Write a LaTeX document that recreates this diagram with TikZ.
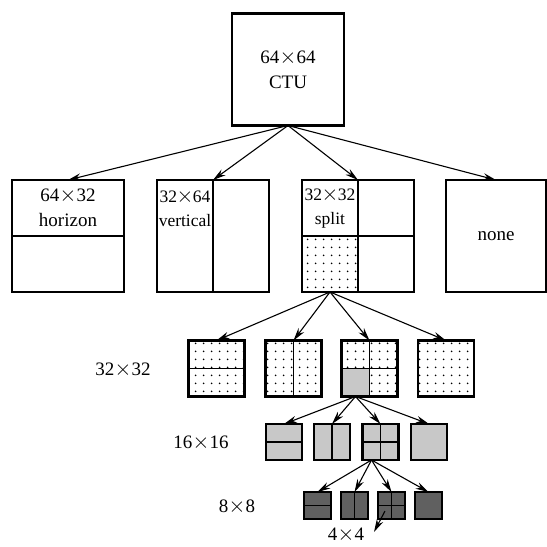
\documentclass[tikz,border=0pt]{standalone}
\usepackage{fontspec}
\setmainfont{Liberation Serif}
\usetikzlibrary{arrows.meta,calc,patterns,backgrounds}
\pgfdeclarepatternformonly{sdots}{\pgfpointorigin}{\pgfpoint{8pt}{8pt}}{\pgfpoint{8pt}{8pt}}{\pgfpathcircle{\pgfpoint{4pt}{4pt}}{1.05pt}\pgfusepath{fill}}
\definecolor{lgray}{RGB}{200,200,200}
\definecolor{dgray}{RGB}{96,96,96}
\newcommand{\tms}{\makebox[0.9em]{\scalebox{1.25}{$\times$}}}
\begin{document}
\begin{tikzpicture}[x=1pt,y=-1pt,
  every node/.style={font=\fontsize{19}{25}\selectfont},
  blk/.style={draw, line width=2.4pt, inner sep=0pt, outer sep=0pt, minimum width=#1, minimum height=#1},
  div/.style={line width=1.9pt},
  arr/.style={-{Stealth[length=13pt,width=7pt]}, line width=1.1pt},
  dotfill/.style={pattern=sdots, pattern color=black},
  lg/.style={fill=lgray},
  dg/.style={fill=dgray},
  small/.style={font=\fontsize{17.5}{24}\selectfont}]
\useasboundingbox (0,0) rectangle (547,547);

% level 0
\node[blk=112pt, align=center] (ctu) at (288,69.5) {64\tms64\\CTU};

% level 1
\node[blk=112pt] (b1) at (68,236) {};
\node[blk=112pt] (b2) at (213,236) {};
\node[blk=112pt] (b3) at (358,236) {};
\node[draw, line width=2.4pt, inner sep=0pt, outer sep=0pt, minimum width=100pt, minimum height=112pt] (b4) at (496,236) {none};
\begin{scope}[on background layer]
  \fill[dotfill] (b3.west) rectangle (b3.south);
\end{scope}
\draw[div] (b1.west) -- (b1.east);
\draw[div] (b2.north) -- (b2.south);
\draw[div] (b3.north) -- (b3.south);
\draw[div] (b3.west) -- (b3.east);
\node[align=center] (t1) at ($(b1.north)!0.5!(b1.center)$) {64\tms32\\horizon};
\node[small, align=center] (t2) at ($(b2.north west)!0.5!(b2.center)$) {32\tms64\\vertical};
\node[small, align=center] (t3) at ($(b3.north west)!0.5!(b3.center)$) {32\tms32\\split};

% level 2
\node[blk=56pt, dotfill] (c1) at (216.5,368.5) {};
\node[blk=56pt, dotfill] (c2) at (293.5,368.5) {};
\node[blk=56pt] (c3) at (369.5,368.5) {};
\node[blk=56pt, dotfill] (c4) at (446,368.5) {};
\begin{scope}[on background layer]
  \fill[dotfill] (c3.north west) rectangle (c3.east);
  \fill[dotfill] (c3.center) rectangle (c3.south east);
  \fill[lgray] (c3.west) rectangle (c3.south);
\end{scope}
\draw[div] (c1.west) -- (c1.east);
\draw[div] (c2.north) -- (c2.south);
\draw[div] (c3.north) -- (c3.south);
\draw[div] (c3.west) -- (c3.east);

% level 3
\node[blk=36pt, lg] (d1) at (284,442) {};
\node[blk=36pt, lg] (d2) at (332,442) {};
\node[blk=36pt, lg] (d3) at (380.5,442) {};
\node[blk=36pt, lg] (d4) at (429,442) {};
\begin{scope}[on background layer]
  \fill[dgray] (d3.west) rectangle (d3.south);
\end{scope}
\draw[div] (d1.west) -- (d1.east);
\draw[div] (d2.north) -- (d2.south);
\draw[div] (d3.north) -- (d3.south);
\draw[div] (d3.west) -- (d3.east);

% level 4
\node[blk=27pt, dg] (e1) at (317.5,505.5) {};
\node[blk=27pt, dg] (e2) at (354.5,505.5) {};
\node[blk=27pt, dg] (e3) at (391.5,505.5) {};
\node[blk=27pt, dg] (e4) at (428.5,505.5) {};
\draw[div] (e1.west) -- (e1.east);
\draw[div] (e2.north) -- (e2.south);
\draw[div] (e3.north) -- (e3.south);
\draw[div] (e3.west) -- (e3.east);

% arrows
\foreach \t in {b1,b2,b3,b4} \draw[arr] (ctu.south) -- (\t.north);
\coordinate (s3) at ($(b3.south west)!0.25!(b3.south east)$);
\foreach \t in {c1,c2,c3,c4} \draw[arr] (s3) -- (\t.north);
\coordinate (s4) at ($(c3.south west)!0.25!(c3.south east)$);
\foreach \t in {d1,d2,d3,d4} \draw[arr] (s4) -- (\t.north);
\coordinate (s5) at ($(d3.south west)!0.25!(d3.south east)$);
\foreach \t in {e1,e2,e3,e4} \draw[arr] (s5) -- (\t.north);

% row labels
\node (r32) at (123,370) {32\tms32};
\node (r16) at (201,443) {16\tms16};
\node (r8) at (237,507) {8\tms8};
\node (l44) at (346,535) {4\tms4};
\coordinate (p44) at (385,511);
\coordinate (q44) at (374,532);
\draw[arr] (p44) -- (q44);
\end{tikzpicture}
\end{document}
